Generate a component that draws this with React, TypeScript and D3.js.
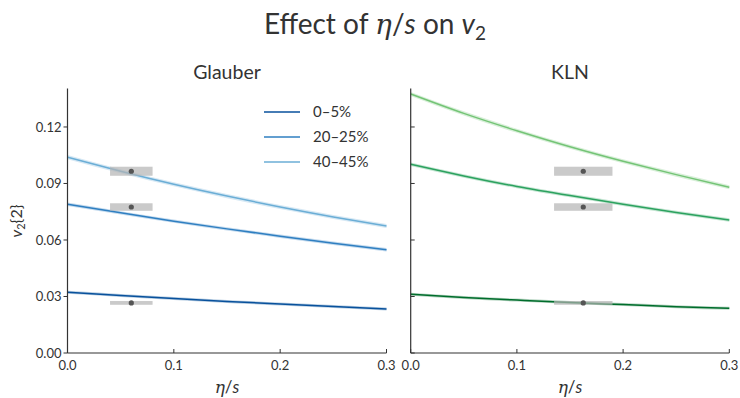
import React from "react";
import * as d3 from "d3";

// eta/s sample points and v2{2}
const etaOverS = [0, 0.05, 0.1, 0.15, 0.2, 0.25, 0.3];
const centralities = ["0–5%", "20–25%", "40–45%"];

const glauber_0_5 = [0.0322, 0.0305, 0.0289, 0.0274, 0.026, 0.0247, 0.0234];
const glauber_20_25 = [0.079, 0.0744, 0.07, 0.0659, 0.062, 0.0583, 0.0548];
const glauber_40_45 = [0.104, 0.0965, 0.0896, 0.0833, 0.0775, 0.0722, 0.0674];

const kln_0_5 = [0.0312, 0.0295, 0.0281, 0.0268, 0.0257, 0.0246, 0.0237];
const kln_20_25 = [0.1002, 0.094, 0.0884, 0.0836, 0.079, 0.0746, 0.0706];
const kln_40_45 = [0.1375, 0.1272, 0.118, 0.1095, 0.1018, 0.0947, 0.088];

// half width of the uncertainty band around each curve
const bandHalf = [0.0008, 0.0009, 0.0011];

// experimental v2{2} with systematic error
const expV2 = [0.0266, 0.0775, 0.0965];
const expSys = [0.001, 0.002, 0.0024];
const glauberEta = { center: 0.06, lo: 0.04, hi: 0.08 };
const klnEta = { center: 0.1625, lo: 0.135, hi: 0.19 };

const yTicks = [0, 0.03, 0.06, 0.09, 0.12];
const xTicks = [0, 0.1, 0.2, 0.3];

const glauberColors = ["#08519c", "#2f7fc1", "#6baed6"];
const klnColors = ["#006d2c", "#2ca25f", "#74c476"];

const font = "Lato, 'DejaVu Sans', sans-serif";
const ink = "#333";

const top = 88.5;
const bottom = 353;
const y = d3.scaleLinear().domain([0, 0.14]).range([bottom, top + 0.8]);

function Panel({ x0, x1, title, series, colors, eta, showY, legend }) {
  const x = d3.scaleLinear().domain([0, 0.3]).range([x0, x1]);
  const line = d3
    .line<number>()
    .x((d, i) => x(etaOverS[i]))
    .y((d) => y(d))
    .curve(d3.curveNatural);
  const band = (h: number) =>
    d3
      .area<number>()
      .x((d, i) => x(etaOverS[i]))
      .y0((d) => y(d - h))
      .y1((d) => y(d + h))
      .curve(d3.curveNatural);
  return (
    <g>
      <text x={(x0 + x1) / 2} y={79} textAnchor="middle" fontSize={19.5} fill={ink}>
        {title}
      </text>
      {series.map((s, i) => (
        <path key={"b" + i} d={band(bandHalf[i])(s)} fill={colors[i]} opacity={0.28} />
      ))}
      {series.map((s, i) => (
        <path key={"l" + i} d={line(s)} fill="none" stroke={colors[i]} strokeWidth={1.5} />
      ))}
      {expV2.map((v, i) => (
        <g key={"e" + i}>
          <rect
            x={x(eta.lo)}
            width={x(eta.hi) - x(eta.lo)}
            y={y(v + expSys[i])}
            height={y(v - expSys[i]) - y(v + expSys[i])}
            fill="#b4b4b4"
            opacity={0.7}
          />
          <circle cx={x(eta.center)} cy={y(v)} r={2.6} fill="#555" />
        </g>
      ))}
      {/* spines */}
      <line x1={x0} x2={x0} y1={top} y2={bottom} stroke={ink} strokeWidth={1.2} />
      <line x1={x0} x2={x1} y1={bottom} y2={bottom} stroke={ink} strokeWidth={1.2} />
      {yTicks.map((t) => (
        <g key={"y" + t}>
          <line
            x1={showY ? x0 - 4 : x0}
            x2={showY ? x0 : x0 + 4}
            y1={y(t)}
            y2={y(t)}
            stroke={ink}
            strokeWidth={1}
          />
          {showY && (
            <text x={x0 - 6} y={y(t)} dy="0.35em" textAnchor="end" fontSize={13} fill={ink}>
              {d3.format(".2f")(t)}
            </text>
          )}
        </g>
      ))}
      {xTicks.map((t) => (
        <g key={"x" + t}>
          <line x1={x(t)} x2={x(t)} y1={bottom} y2={bottom - 4} stroke={ink} strokeWidth={1} />
          <text x={x(t)} y={370} textAnchor="middle" fontSize={13} fill={ink}>
            {d3.format(".1f")(t)}
          </text>
        </g>
      ))}
      <text x={(x0 + x1) / 2} y={393} textAnchor="middle" fontSize={17} fill={ink}>
        <tspan fontStyle="italic" fontFamily="'DejaVu Serif', serif">η</tspan>
        <tspan>/</tspan>
        <tspan fontStyle="italic">s</tspan>
      </text>
      {legend &&
        centralities.map((c, i) => (
          <g key={"lg" + i}>
            <line x1={264} x2={300} y1={112 + i * 25} y2={112 + i * 25} stroke={colors[i]} strokeWidth={1.6} />
            <text x={313} y={112 + i * 25} dy="0.35em" fontSize={15} fill={ink}>
              {c}
            </text>
          </g>
        ))}
    </g>
  );
}

export default function App() {
  return (
    <div style={{ position: "absolute", left: 0, top: 0 }}>
      <svg width={740} height={398} fontFamily={font} style={{ display: "block", background: "#fff" }}>
        <text x={375} y={34} textAnchor="middle" fontSize={28} fill={ink}>
          <tspan>Effect of </tspan>
          <tspan fontStyle="italic" fontFamily="'DejaVu Serif', serif">η</tspan>
          <tspan>/</tspan>
          <tspan fontStyle="italic">s</tspan>
          <tspan> on </tspan>
          <tspan fontStyle="italic">v</tspan>
          <tspan fontSize={19} dy={6}>2</tspan>
        </text>
        <text transform="translate(22,221) rotate(-90)" textAnchor="middle" fontSize={16} fill={ink}>
          <tspan fontStyle="italic">v</tspan>
          <tspan fontSize={11} dy={3}>2</tspan>
          <tspan dy={-3}>{"{2}"}</tspan>
        </text>
        <Panel
          x0={67.5}
          x1={386.5}
          title="Glauber"
          series={[glauber_0_5, glauber_20_25, glauber_40_45]}
          colors={glauberColors}
          eta={glauberEta}
          showY={true}
          legend={true}
        />
        <Panel
          x0={410.7}
          x1={729.3}
          title="KLN"
          series={[kln_0_5, kln_20_25, kln_40_45]}
          colors={klnColors}
          eta={klnEta}
          showY={false}
          legend={false}
        />
      </svg>
    </div>
  );
}
